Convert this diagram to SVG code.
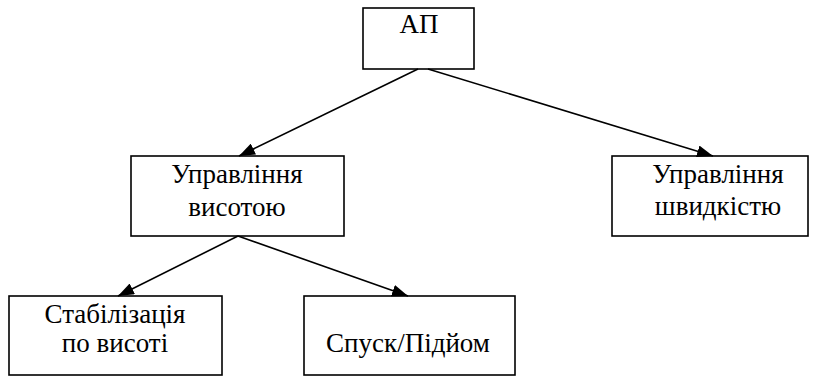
<svg xmlns="http://www.w3.org/2000/svg" width="813" height="376" viewBox="0 0 813 376">
<style>
.box{fill:#fff;stroke:#000;stroke-width:1.6}
.c{stroke:#000;stroke-width:1.6;fill:none;marker-end:url(#ah)}
</style>
<defs>
<marker id="ah" viewBox="0 0 16 12" refX="16" refY="6" markerWidth="16" markerHeight="12" markerUnits="userSpaceOnUse" orient="auto">
<path d="M0,0 L16,6 L0,12 Z" fill="#000"/>
</marker>
</defs>
<rect width="813" height="376" fill="#fff"/>
<g font-family="'Liberation Serif', 'Times New Roman', serif" font-size="27" text-anchor="middle" fill="#000">
<g id="n-ap"><rect class="box" x="363" y="8" width="111" height="61"/><text x="419" y="33">АП</text></g>
<g id="n-vys"><rect class="box" x="131" y="156" width="213" height="80"/><text x="237" y="183">Управління</text><text x="237" y="216">висотою</text></g>
<g id="n-shv"><rect class="box" x="612" y="156" width="196" height="80"/><text x="718" y="183">Управління</text><text x="718" y="215">швидкістю</text></g>
<g id="n-stab"><rect class="box" x="9" y="296" width="213" height="79"/><text x="115" y="323">Стабілізація</text><text x="115" y="352">по висоті</text></g>
<g id="n-spusk"><rect class="box" x="304" y="296" width="211" height="79"/><text x="408" y="352">Спуск/Підйом</text></g>
</g>
<g id="connectors">
<line class="c" x1="418" y1="69" x2="239" y2="156"/>
<line class="c" x1="428" y1="69" x2="713" y2="156"/>
<line class="c" x1="238" y1="236" x2="118" y2="296"/>
<line class="c" x1="238" y1="236" x2="408" y2="296"/>
</g>
</svg>
